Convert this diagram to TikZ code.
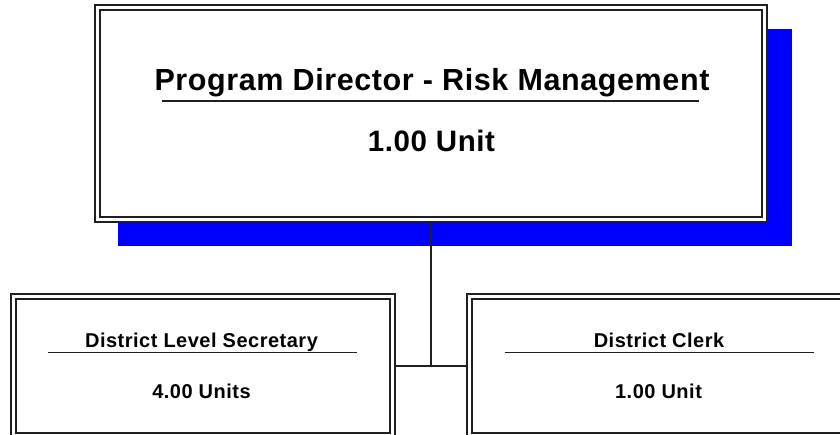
\documentclass[tikz,border=0pt]{standalone}
\usepackage{fontspec}
\newfontfamily\chartfont{Liberation Sans}[LetterSpace=2]
\newfontfamily\chartfontsmall{Liberation Sans}[LetterSpace=2.5]
\usetikzlibrary{calc,backgrounds}

\begin{document}
\begin{tikzpicture}[x=1pt,y=-1pt,
  posbox/.style={draw=black!88, line width=1.7pt, double=white,
    double distance=3.3pt, fill=white, inner sep=0pt, outer sep=0pt,
    minimum width=#1},
  titletext/.style={font=\chartfont\bfseries\fontsize{30.5}{34}\selectfont,
    inner sep=0pt, anchor=base},
  unittext/.style={font=\chartfont\bfseries\fontsize{29.5}{33}\selectfont,
    inner sep=0pt, anchor=base},
  smalltext/.style={font=\chartfontsmall\bfseries\fontsize{20}{23}\selectfont,
    inner sep=0pt, anchor=base},
  uline/.style={draw=black!88, line width=1.9pt},
  wire/.style={draw=black!88, line width=1.8pt},
  shadowfill/.style={fill=blue}]

\useasboundingbox (0,0) rectangle (840,435);
\clip (0,0) rectangle (840,435);

% position boxes
\node[posbox=667.3pt, minimum height=211.4pt] (director) at (430.85,113.5) {};
\node[posbox=379.2pt, minimum height=139pt] (secretary) at (203,366) {};
\node[posbox=379.2pt, minimum height=139pt] (clerk) at (659.1,366) {};

% director box text
\node[titletext] (dirTitle) at (432,91) {Program Director - Risk Management};
\draw[uline] (162,101) -- (699,101);
\node[unittext] (dirUnits) at (431.5,152) {1.00 Unit};

% secretary box text
\node[smalltext] (secTitle) at (201.5,347) {District Level Secretary};
\draw[uline] (48,352.5) -- (357,352.5);
\node[smalltext] (secUnits) at (201.5,398) {4.00 Units};

% clerk box text
\node[smalltext] (clkTitle) at (659,347) {District Clerk};
\draw[uline] (504.5,352.5) -- (813.5,352.5);
\node[smalltext] (clkUnits) at (658.5,398) {1.00 Unit};

% shadow and reporting lines behind the boxes
\begin{scope}[on background layer]
  \fill[shadowfill] ($(director.north west)+(20.8,21.2)$) rectangle
                    ($(director.south east)+(27.5,26.8)$);
  \coordinate (hub) at ($(director.south)+(0,146.5)$);
  \draw[wire] (director.south) -- (hub);
  \draw[wire] (secretary.east |- hub) -- (clerk.west |- hub);
\end{scope}
\end{tikzpicture}
\end{document}
